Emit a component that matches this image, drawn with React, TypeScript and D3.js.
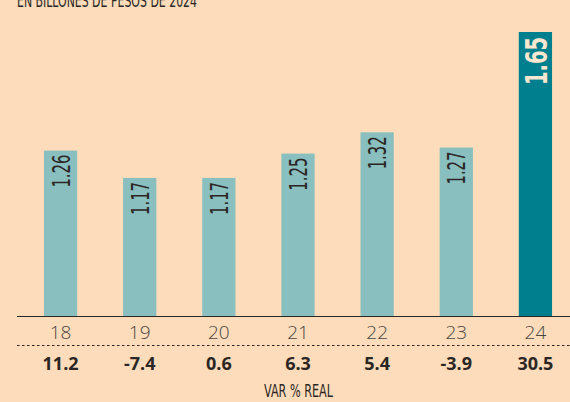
import React, { useEffect, useRef } from 'react';
import * as d3 from 'd3';

const years = ['18', '19', '20', '21', '22', '23', '24'];
const amounts = [1.26, 1.17, 1.17, 1.25, 1.32, 1.27, 1.65];
const realChange = ['11.2', '-7.4', '0.6', '6.3', '5.4', '-3.9', '30.5'];

const BG = '#fcdcba';
const LIGHT = '#89bfbf';
const DARK = '#007f8e';
const INK = '#2b2624';
const NARROW = '"DejaVu Sans Condensed", "DejaVu Sans", sans-serif';

export default function App() {
    const svgRef = useRef<SVGSVGElement>(null);

    useEffect(() => {
        if (!svgRef.current) return;
        const width = 570;
        const height = 402;
        const baseY = 316;

        const svg = d3.select(svgRef.current);
        svg.selectAll('*').remove();

        svg.append('rect').attr('width', width).attr('height', height).attr('fill', BG);

        // scale does not start at zero in the original
        const x = d3.scaleBand<string>().domain(years).range([21, 575]).paddingInner(0.58).paddingOuter(0.29);
        const y = d3.scaleLinear().domain([0.716, 1.65]).range([baseY, 32]);

        svg.append('text')
            .attr('x', 17).attr('y', 7)
            .attr('fill', INK)
            .attr('textLength', 180)
            .attr('lengthAdjust', 'spacingAndGlyphs')
            .style('font-family', NARROW)
            .style('font-size', '17px')
            .text('EN BILLONES DE PESOS DE 2024');

        const last = years.length - 1;
        const bar = svg.selectAll('g.bar')
            .data(amounts)
            .join('g')
            .attr('class', 'bar');

        bar.append('rect')
            .attr('x', (d, i) => x(years[i])!)
            .attr('y', d => y(d))
            .attr('width', x.bandwidth())
            .attr('height', d => baseY - y(d))
            .attr('fill', (d, i) => (i === last ? DARK : LIGHT));

        bar.append('text')
            .attr('transform', (d, i) => {
                const cx = x(years[i])! + x.bandwidth() / 2;
                const ty = y(d) + (i === last ? 5 : 4);
                return `translate(${cx},${ty}) rotate(-90)`;
            })
            .attr('text-anchor', 'end')
            .attr('dy', '0.36em')
            .attr('textLength', (d, i) => (i === last ? 48 : 33))
            .attr('lengthAdjust', 'spacingAndGlyphs')
            .attr('fill', (d, i) => (i === last ? '#fbe7cf' : INK))
            .style('font-family', NARROW)
            .style('font-size', (d, i) => (i === last ? '31px' : '25px'))
            .style('font-weight', (d, i) => (i === last ? 700 : 400))
            .text(d => d.toFixed(2));

        svg.append('line')
            .attr('x1', 17).attr('x2', width)
            .attr('y1', baseY + 0.5).attr('y2', baseY + 0.5)
            .attr('stroke', INK).attr('stroke-width', 1.2);

        svg.append('g')
            .selectAll('text')
            .data(years)
            .join('text')
            .attr('x', d => x(d)! + x.bandwidth() / 2)
            .attr('y', 339)
            .attr('text-anchor', 'middle')
            .attr('fill', '#4a4542')
            .style('font-family', '"Open Sans", sans-serif')
            .style('font-weight', 300)
            .style('font-size', '19px')
            .text(d => d);

        svg.append('line')
            .attr('x1', 17).attr('x2', width)
            .attr('y1', 345.5).attr('y2', 345.5)
            .attr('stroke', INK).attr('stroke-width', 1.2)
            .attr('stroke-dasharray', '2.5,2.5');

        svg.append('g')
            .selectAll('text')
            .data(realChange)
            .join('text')
            .attr('x', (d, i) => x(years[i])! + x.bandwidth() / 2)
            .attr('y', 370)
            .attr('text-anchor', 'middle')
            .attr('fill', INK)
            .style('font-family', '"Open Sans", sans-serif')
            .style('font-weight', 700)
            .style('font-size', '18px')
            .text(d => d);

        svg.append('text')
            .attr('x', x('21')! + x.bandwidth() / 2 - 34)
            .attr('y', 397)
            .attr('fill', INK)
            .attr('textLength', 69)
            .attr('lengthAdjust', 'spacingAndGlyphs')
            .style('font-family', NARROW)
            .style('font-size', '17px')
            .text('VAR % REAL');
    }, []);

    return (
        <div style={{ position: 'fixed', left: 0, top: 0, width: 570, height: 402, background: BG }}>
            <svg ref={svgRef} width={570} height={402} style={{ display: 'block' }}></svg>
        </div>
    );
}
